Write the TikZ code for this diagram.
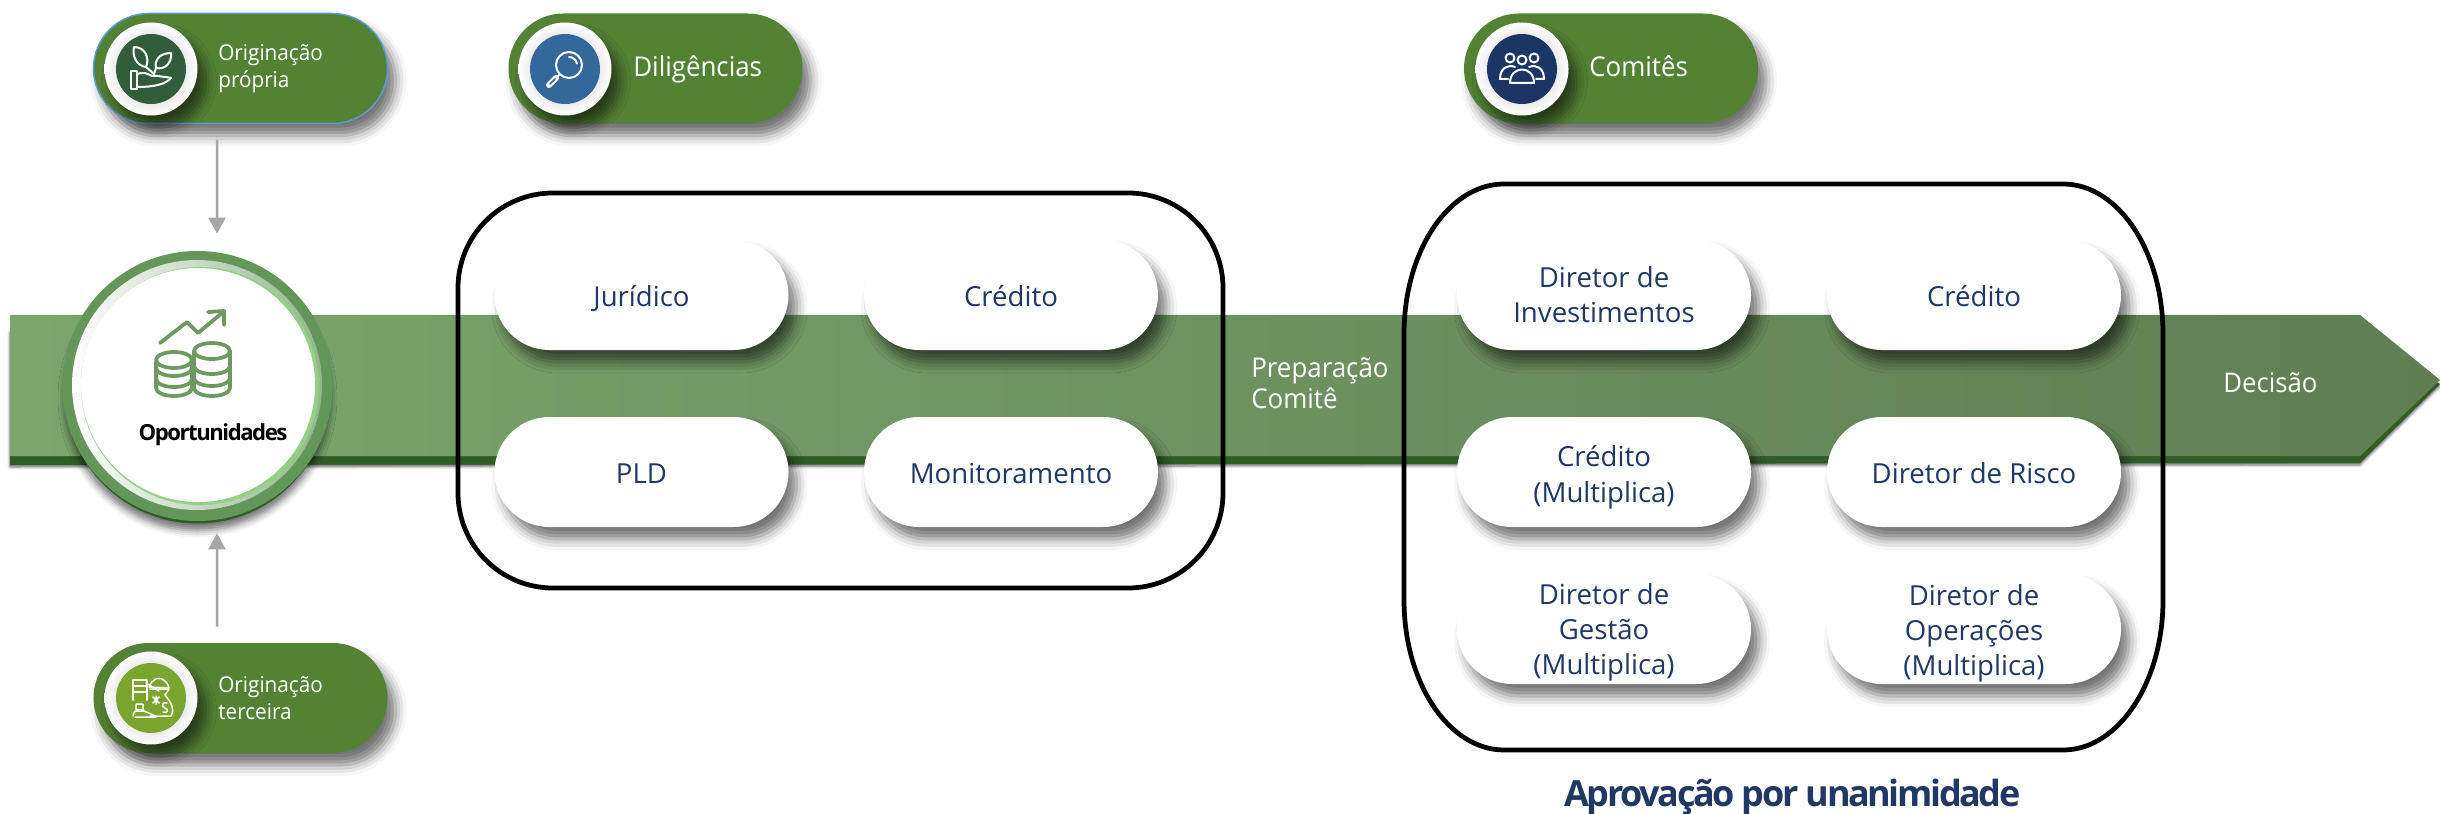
\documentclass[tikz,border=0pt]{standalone}
\usepackage{fontspec}
\setmainfont{Open Sans}
\newfontfamily\fontetitulo[LetterSpace=-6.6]{Open Sans}
\newfontfamily\fontefaixa[FakeStretch=0.95]{Open Sans}
\usetikzlibrary{arrows.meta,shadows.blur}
\definecolor{pillgreen}{RGB}{84,130,53}
\definecolor{pillblue}{RGB}{91,155,213}
\definecolor{bandleft}{RGB}{123,165,110}
\definecolor{bandright}{RGB}{95,127,82}
\definecolor{banddark}{RGB}{48,92,38}
\definecolor{navytext}{RGB}{31,56,100}
\definecolor{ringgreen}{RGB}{100,150,90}
\definecolor{ringlight}{RGB}{146,208,132}
\definecolor{arrowgray}{RGB}{166,166,166}
\definecolor{discplant}{RGB}{50,93,58}
\definecolor{discblue}{RGB}{52,103,155}
\definecolor{discnavy}{RGB}{27,54,100}
\definecolor{discolive}{RGB}{122,165,47}
\definecolor{coingreen}{RGB}{108,154,96}
\newcommand{\topfill}[1]{\rule{0pt}{#1}}
\tikzset{
    softshadow/.style={blur shadow={shadow xshift=1.6mm,shadow yshift=-2.4mm,shadow blur radius=2.2mm,shadow opacity=55}},
    greenpill/.style={rectangle, rounded corners=11mm, fill=pillgreen, minimum width=58.8mm, minimum height=22mm, inner sep=0pt, softshadow},
    whitepill/.style={rectangle, rounded corners=11mm, fill=white, text=navytext, minimum width=58.8mm, minimum height=22mm, inner sep=0pt, align=center, font=\fontsize{15.7}{20}\selectfont, softshadow},
    oneline/.style={text height=13.4pt, text depth=0pt},
    whitedisc/.style={circle, inner color=black!30, outer color=white, minimum size=18.6mm, inner sep=0pt, softshadow},
    icondisc/.style={circle, minimum size=14mm, inner sep=0pt},
    pilltext/.style={text=white, align=left, anchor=west, inner sep=0pt, font=\fontefaixa\fontsize{12.4}{15.3}\selectfont},
    bigpilltext/.style={text=white, align=left, inner sep=0pt, font=\fontefaixa\fontsize{15.5}{17.6}\selectfont},
    groupbox/.style={draw=black, line width=0.95mm},
    feedarrow/.style={draw=arrowgray, line width=0.5mm, -{Triangle[length=3.2mm,width=3.4mm]}},
    iconline/.style={draw=white, line width=0.4mm, line join=round, line cap=round},
    coinline/.style={draw=coingreen, line width=0.75mm, line join=round, line cap=round},
}
\begin{document}
\begin{tikzpicture}[x=0.2mm,y=-0.2mm]
    \useasboundingbox (0,0) rectangle (2440,814);
    % faixa
    \fill[banddark, blur shadow={shadow xshift=0mm,shadow yshift=-0.4mm,shadow blur radius=0.5mm,shadow opacity=60}] (10,330) -- (2360,330) -- (2440,384) -- (2360,463) -- (10,465) -- cycle;
    \path[left color=bandleft, right color=bandright] (10,315) -- (2360,315) -- (2440,380) -- (2360,456) -- (10,456) -- cycle;
    % caixas
    \draw[groupbox, rounded corners=19mm] (458,193) rectangle (1223,588);
    \draw[groupbox] (1404,334) .. controls (1404,251) and (1449,184) .. (1504,184) -- (2063,184) .. controls (2118,184) and (2163,251) .. (2163,334) -- (2163,600) .. controls (2163,683) and (2118,750) .. (2063,750) -- (1504,750) .. controls (1449,750) and (1404,683) .. (1404,600) -- cycle;
    % diligencias
    \node[whitepill, oneline] (juridico) at (641.5,295) {Jurídico};
    \node[whitepill, oneline] (creditoa) at (1011,295) {Crédito};
    \node[whitepill, oneline] (pld) at (641.5,472) {PLD};
    \node[whitepill, oneline] (monitor) at (1011,472) {Monitoramento};
    % comites
    \node[whitepill] (diretorinv) at (1604,295) {Diretor de\\Investimentos};
    \node[whitepill, oneline] (creditob) at (1974,295) {Crédito};
    \node[whitepill] (creditomult) at (1604,472) {\topfill{18pt}Crédito\\(Multiplica)};
    \node[whitepill, oneline] (diretorrisco) at (1974,472) {Diretor de Risco};
    \node[whitepill] (diretorgestao) at (1604,629) {\topfill{16pt}Diretor de\\Gestão\\(Multiplica)};
    \node[whitepill] (diretorop) at (1974,629) {\topfill{17pt}Diretor de\\Operações\\(Multiplica)};
    % textos da faixa
    \node[bigpilltext, anchor=west] (preparacao) at (1251,383) {Preparação\\Comitê};
    \node[bigpilltext, anchor=west, font=\fontefaixa\fontsize{15.4}{18}\selectfont] (decisao) at (2223,383) {Decisão};
    \node[text=navytext, inner sep=0pt, anchor=base, font=\fontetitulo\bfseries\fontsize{20.5}{25}\selectfont] (aprovacao) at (1792.5,806.5) {Aprovação por unanimidade};
    % oportunidades
    \node[circle, fill=banddark, minimum size=53mm, inner sep=0pt, blur shadow={shadow xshift=0mm,shadow yshift=-1.4mm,shadow blur radius=1.4mm,shadow opacity=55}] (ringdark) at (197.5,391) {};
    \node[circle, fill=ringgreen, minimum size=54mm, inner sep=0pt] (ringouter) at (197.5,386) {};
    \node[circle, left color=white, right color=ringgreen!70, minimum size=50mm, inner sep=0pt] (ringinner) at (197,385) {};
    \node[circle, fill=ringlight, minimum size=47.6mm, inner sep=0pt] (ringglow) at (200,386) {};
    \node[circle, fill=white, minimum size=46.8mm, inner sep=0pt] (oportcircle) at (198,385) {};
    \draw[coinline] (160,343) -- (187,322) -- (198,333) -- (222,313);
    \draw[coinline] (208,312) -- (224,311) -- (224,325);
    \draw[coinline, fill=white] (156,362) -- (156,388) arc (180:0:18 and 8) -- (192,362);
    \draw[coinline] (156,368) arc (180:0:18 and 8);
    \draw[coinline] (156,379) arc (180:0:18 and 8);
    \draw[coinline, fill=white] (174,360) ellipse (18 and 8);
    \draw[coinline, fill=white] (194,351) -- (194,388) arc (180:0:18 and 8) -- (230,351);
    \draw[coinline] (194,366) arc (180:0:18 and 8);
    \draw[coinline] (194,378) arc (180:0:18 and 8);
    \draw[coinline, fill=white] (212,351) ellipse (18 and 8);
    \node[text=black, inner sep=0pt, anchor=base, font=\fontetitulo\bfseries\fontsize{12.6}{15}\selectfont] (oport) at (213,440) {Oportunidades};
    % originacao propria
    \node[greenpill, draw=pillblue, line width=0.3mm] (origpropria) at (240.5,68.5) {};
    \node[whitedisc] (discoa) at (151,69) {};
    \node[icondisc, fill=discplant] (iconea) at (151,69) {};
    \draw[iconline] (131,71) rectangle (137,89);
    \draw[iconline] (137,74) .. controls (143,72) and (147,73) .. (152,76) -- (158,76) .. controls (163,77) and (168,77) .. (171,78) .. controls (166,84) and (155,87) .. (137,87);
    \draw[iconline] (134,47) .. controls (145,47) and (150,58) .. (146,67) .. controls (137,66) and (132,57) .. (134,47);
    \draw[iconline] (171,53) .. controls (172,63) and (165,70) .. (156,68) .. controls (154,60) and (160,53) .. (171,53);
    \draw[iconline] (146,67) -- (154,74) -- (156,68);
    \node[pilltext] (origpropriatxt) at (218,68.5) {Originação\\própria};
    % diligencias
    \node[greenpill] (diligencias) at (655.5,68.5) {};
    \node[whitedisc] (discob) at (565,69) {};
    \node[icondisc, fill=discblue] (iconeb) at (565,69) {};
    \draw[iconline] (569,65) circle (13);
    \draw[iconline] (569,57) arc (90:10:8 and -8);
    \draw[iconline] (559,75) -- (556,78);
    \draw[white, line width=1.2mm, line cap=round] (556,78) -- (549,85);
    \draw[discblue, line width=0.3mm, line cap=round] (555,79) -- (550,84);
    \node[bigpilltext, anchor=base west] (diligenciastxt) at (633,76.5) {Diligências};
    % comites
    \node[greenpill] (comites) at (1611,68.5) {};
    \node[whitedisc] (discoc) at (1522,69) {};
    \node[icondisc, fill=discnavy] (iconec) at (1522,69) {};
    \draw[iconline] (1510,58) circle (4.5) (1522,60) circle (4.5) (1534,58) circle (4.5);
    \draw[iconline] (1515,67) .. controls (1508,64) and (1500,68) .. (1500,79) -- (1508,79);
    \draw[iconline] (1529,67) .. controls (1536,64) and (1544,68) .. (1544,79) -- (1536,79);
    \draw[iconline] (1510,83) .. controls (1510,65) and (1534,65) .. (1534,83) -- cycle;
    \node[bigpilltext, anchor=base west] (comitestxt) at (1589,76.5) {Comitês};
    % originacao terceira
    \node[greenpill] (origterceira) at (240.5,698) {};
    \node[whitedisc] (discod) at (151,698) {};
    \node[icondisc, fill=discolive] (iconed) at (151,698) {};
    \draw[iconline, line width=0.3mm] (133,680) rectangle (147,686) (133,686) -- (133,700) (147,686) -- (147,700) (133,692) -- (147,692);
    \draw[iconline, line width=0.3mm] (136,704) rectangle (143,711) (146,683) -- (159,691);
    \draw[iconline, line width=0.3mm] (149,687) .. controls (152,679) and (158,677) .. (162,679) .. controls (166,681) and (168,684) .. (169,688) -- cycle;
    \draw[iconline, line width=0.3mm] (150,689) -- (169,689) -- (165,695) .. controls (171,702) and (175,709) .. (171,716) -- (150,716);
    \draw[iconline, line width=0.3mm] (133,716) .. controls (134,709) and (140,708) .. (146,712) .. controls (152,714) and (155,716) .. (156,717) -- (135,717);
    \draw[iconline, line width=0.3mm] (153,697) -- (159,703) (159,697) -- (153,703) (156,696) -- (156,704);
    \draw[iconline, line width=0.3mm] (167,703) .. controls (162,701) and (161,707) .. (165,708) .. controls (169,709) and (168,714) .. (163,712);
    \node[pilltext] (origterceiratxt) at (218,698) {Originação\\terceira};
    % setas
    \draw[feedarrow] ([xshift=-4.7mm,yshift=-3.2mm]origpropria.south) -- ([xshift=3.9mm,yshift=3.4mm]ringouter.north);
    \draw[feedarrow] ([xshift=-4.7mm,yshift=3.2mm]origterceira.north) -- ([xshift=3.9mm,yshift=-2.4mm]ringouter.south);
\end{tikzpicture}
\end{document}
